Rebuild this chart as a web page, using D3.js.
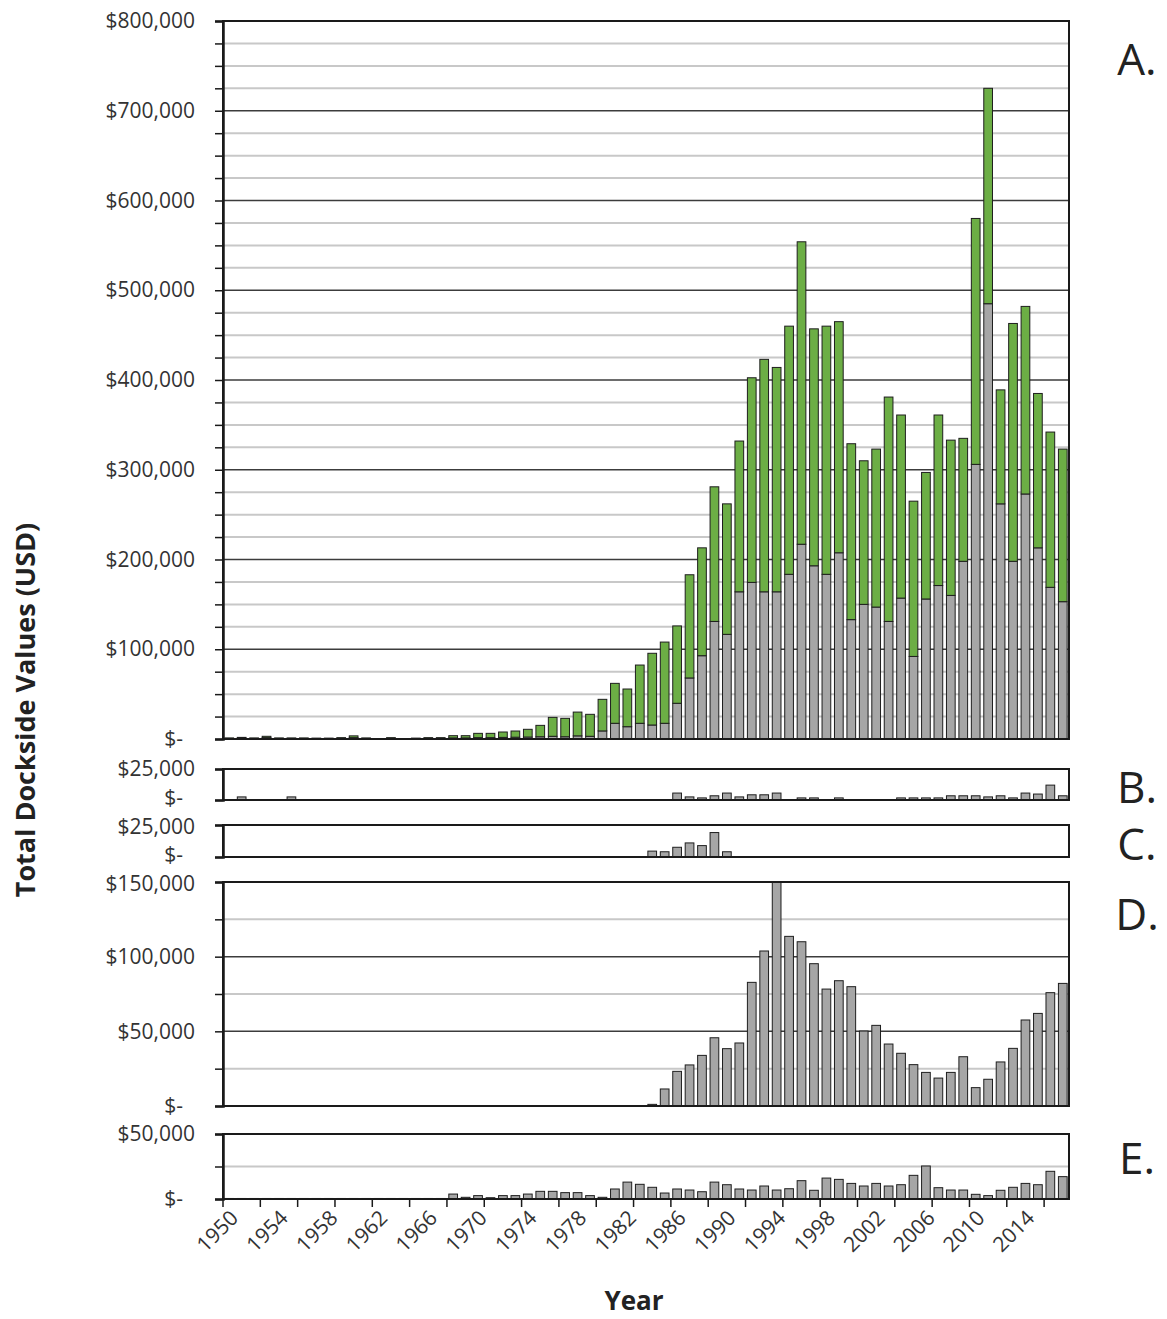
<!DOCTYPE html>
<html>
<head>
<meta charset="utf-8">
<script src="https://d3js.org/d3.v7.min.js"></script>
<style>
    body { margin: 0; background: #fff; }
    text { font-family: "Open Sans", sans-serif; }
</style>
</head>
<body>
<div id="chart"></div>
<script>

// categories: one bar per year
var years = d3.range(1950, 2018);

// panel A: total dockside value and its gray (lower) share, USD
var totalA = [1200,1800,1200,3000,1200,1200,1200,1000,1000,1500,
              3500,1200,0,1500,0,1000,1500,1500,3700,3700,
              6300,6300,7800,8900,10800,15200,24100,23000,30000,27500,
              44200,62000,55700,82400,95500,108000,126000,183000,213000,281000,
              262000,332000,402500,423000,414000,460000,554000,457000,460000,465000,
              329000,310000,323000,381000,361000,265000,297000,361000,333000,335000,
              580000,725000,389000,463000,482000,385000,342000,323000];
var grayA = [600,900,600,1500,600,600,600,500,500,700,
             1500,600,0,700,0,500,700,700,1200,1200,
             1500,1500,1800,2000,2200,2500,3000,2500,3500,3000,
             9000,17500,13700,17500,15600,17500,39800,68000,92800,131000,
             116600,164000,174500,164000,164000,183500,217000,193000,183500,207500,
             133000,150000,147000,131000,157000,92000,156000,171000,160000,198000,
             306000,485000,262000,198000,273000,213000,169000,153000];

// panels B - E
var valuesB = [0,2500,0,0,0,2500,0,0,0,0,
               0,0,0,0,0,0,0,0,0,0,
               0,0,0,0,0,0,0,0,0,0,
               0,0,0,0,0,0,5600,2500,1700,3400,
               5600,2500,4200,4200,5600,0,1700,1700,0,1700,
               0,0,0,0,1700,1700,1700,1700,3400,3400,
               3400,2500,3400,1700,5600,4800,12000,3400];
var valuesC = [0,0,0,0,0,0,0,0,0,0,
               0,0,0,0,0,0,0,0,0,0,
               0,0,0,0,0,0,0,0,0,0,
               0,0,0,0,4600,4100,7600,11000,8900,19100,
               4100,0,0,0,0,0,0,0,0,0,
               0,0,0,0,0,0,0,0,0,0,
               0,0,0,0,0,0,0,0];
var valuesD = [0,0,0,0,0,0,0,0,0,0,
               0,0,0,0,0,0,0,0,0,0,
               0,0,0,0,0,0,0,0,0,0,
               0,0,0,0,1100,11400,23200,27500,33900,45700,
               38400,42200,82800,103800,150000,113600,110000,95300,78300,83900,
               79900,50200,54000,41500,35300,27700,22500,18700,22500,33000,
               12300,17900,29500,38600,57600,62000,75900,82100];
var valuesE = [400,400,400,400,400,400,400,400,400,400,
               400,400,400,400,400,400,400,400,3800,1300,
               2600,1000,2600,2600,3800,5900,5900,4900,4900,2600,
               1300,7700,13000,11300,9000,4600,7700,6900,5600,13000,
               11000,7700,6900,10000,6900,7900,14100,6700,16100,15100,
               12000,10000,12000,10000,11000,18200,25400,8700,6900,6900,
               3600,2600,6700,9000,12000,11000,21300,17200];

var panelLetters = ["A.", "B.", "C.", "D.", "E."];

var width = 1167, height = 1319;
var left = 223, right = 1069;

var svg = d3.select("#chart").append("svg")
    .attr("width", width)
    .attr("height", height);

var x = d3.scaleBand().domain(years).range([left, right]).paddingInner(0.3).paddingOuter(0.15);

var money = function (v) {
    return v === 0 ? "$-" : "$" + d3.format(",")(v);
};

// layout of every panel (top / bottom pixel, axis max, tick step, label step, grid)
//  nudgeTop / nudgeZero: small vertical shift of the end labels so neighbours don't collide
var panels = [
    { letter: 0, top: 21,  bottom: 739,  max: 800000, tick: 25000, label: 100000, minor: 25000, major: 100000, letterY: 58,   nudgeTop: 0, nudgeZero: 0 },
    { letter: 1, top: 769, bottom: 800,  max: 25000,  tick: 25000, label: 25000,  minor: 0, major: 0,          letterY: 786,  nudgeTop: 0, nudgeZero: -2 },
    { letter: 2, top: 825, bottom: 857,  max: 25000,  tick: 25000, label: 25000,  minor: 0, major: 0,          letterY: 843,  nudgeTop: 2, nudgeZero: -2 },
    { letter: 3, top: 882, bottom: 1106, max: 150000, tick: 25000, label: 50000,  minor: 25000, major: 50000,  letterY: 913,  nudgeTop: 2, nudgeZero: 0 },
    { letter: 4, top: 1134, bottom: 1199, max: 50000, tick: 25000, label: 50000,  minor: 25000, major: 0,      letterY: 1157, nudgeTop: 0, nudgeZero: 0 }
];

function drawPanel(p, series)
{
    var y = d3.scaleLinear().domain([0, p.max]).range([p.bottom, p.top]);
    var g = svg.append("g");

    // grid lines
    if (p.minor) {
        var gridVals = d3.range(p.minor, p.max, p.minor);
        g.selectAll("line.grid").data(gridVals).enter().append("line")
            .attr("x1", left).attr("x2", right)
            .attr("y1", function (d) { return y(d); })
            .attr("y2", function (d) { return y(d); })
            .attr("stroke", function (d) { return p.major && d % p.major === 0 ? "#3c3c3c" : "#c8c8c8"; })
            .attr("stroke-width", function (d) { return p.major && d % p.major === 0 ? 1.5 : 2; });
    }

    // bars (series stacked bottom -> top)
    series.forEach(function (s) {
        g.selectAll(null).data(years).enter().append("rect")
            .attr("x", function (d) { return x(d); })
            .attr("width", x.bandwidth())
            .attr("y", function (d, i) { return y(Math.min(s.hi[i], p.max)); })
            .attr("height", function (d, i) {
                return Math.max(0, y(s.lo ? s.lo[i] : 0) - y(Math.min(s.hi[i], p.max)));
            })
            .attr("fill", s.color)
            .attr("stroke", "#1e1e1e")
            .attr("stroke-width", 1)
            .style("display", function (d, i) { return s.hi[i] - (s.lo ? s.lo[i] : 0) > 0 ? null : "none"; });
    });

    // frame
    g.append("rect")
        .attr("x", left).attr("y", p.top)
        .attr("width", right - left).attr("height", p.bottom - p.top)
        .attr("fill", "none").attr("stroke", "#1a1a1a").attr("stroke-width", 2);

    // y axis
    var axis = d3.axisLeft(y)
        .tickValues(d3.range(0, p.max + 1, p.tick))
        .tickSize(8)
        .tickPadding(20)
        .tickFormat(function (v) { return v % p.label === 0 ? money(v) : ""; });
    var ax = g.append("g").attr("transform", "translate(" + left + ",0)").call(axis);
    ax.select(".domain").attr("stroke", "#1a1a1a").attr("stroke-width", 2.5);
    ax.selectAll(".tick line").attr("stroke", "#1a1a1a").attr("stroke-width", 1.5);
    ax.selectAll(".tick text")
        .attr("font-size", 21)
        .attr("fill", "#333")
        .attr("font-family", "'Open Sans', sans-serif")
        .attr("dx", function (v) { return v === 0 ? -12 : 0; })
        .attr("y", function (v) {
            if (v === 0) return p.nudgeZero;
            if (v === p.max) return p.nudgeTop;
            return 0;
        });

    // panel letter
    svg.append("text")
        .attr("x", 1137).attr("y", p.letterY)
        .attr("text-anchor", "middle")
        .attr("dominant-baseline", "central")
        .attr("font-size", 44)
        .attr("fill", "#222")
        .text(panelLetters[p.letter]);

    return y;
}

drawPanel(panels[0], [
    { hi: grayA, color: "#a6a6a6" },
    { lo: grayA, hi: totalA, color: "#6cae45" }
]);
drawPanel(panels[1], [{ hi: valuesB, color: "#a6a6a6" }]);
drawPanel(panels[2], [{ hi: valuesC, color: "#a6a6a6" }]);
drawPanel(panels[3], [{ hi: valuesD, color: "#a6a6a6" }]);
drawPanel(panels[4], [{ hi: valuesE, color: "#a6a6a6" }]);

// x axis below panel E: ticks every 3 years, labels every 4
var base = panels[4].bottom;
var tickPos = d3.range(0, years.length, 3).map(function (i) { return left + i * (right - left) / years.length; });
svg.selectAll("line.xtick").data(tickPos).enter().append("line")
    .attr("x1", function (d) { return d; }).attr("x2", function (d) { return d; })
    .attr("y1", base).attr("y2", base + 8)
    .attr("stroke", "#1a1a1a").attr("stroke-width", 1.5);

svg.selectAll("text.xlab").data(years.filter(function (d) { return (d - 1950) % 4 === 0; }))
    .enter().append("text")
    .attr("transform", function (d) {
        return "translate(" + (x(d) + x.bandwidth() / 2 + 5) + "," + (base + 15) + ") rotate(-45)";
    })
    .attr("text-anchor", "end")
    .attr("dy", "0.35em")
    .attr("font-size", 21)
    .attr("fill", "#333")
    .text(function (d) { return d; });

// axis titles
svg.append("text")
    .attr("x", 634).attr("y", 1300)
    .attr("text-anchor", "middle")
    .attr("dominant-baseline", "central")
    .attr("font-size", 26)
    .attr("font-weight", "bold")
    .attr("fill", "#222")
    .text("Year");

svg.append("text")
    .attr("transform", "translate(24,710) rotate(-90)")
    .attr("text-anchor", "middle")
    .attr("dominant-baseline", "central")
    .attr("font-size", 27)
    .attr("font-weight", "bold")
    .attr("fill", "#222")
    .text("Total Dockside Values (USD)");

</script>
</body>
</html>
